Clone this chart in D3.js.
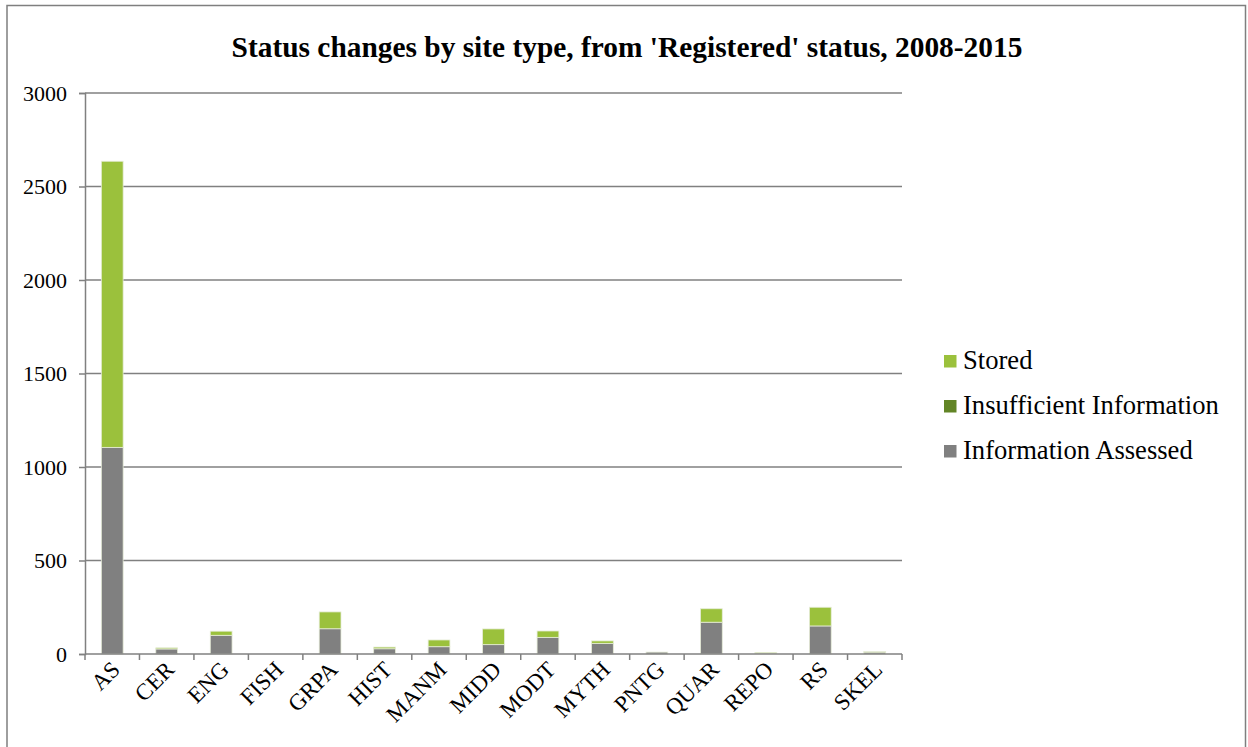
<!DOCTYPE html>
<html>
<head>
<meta charset="utf-8">
<script src="https://cdn.jsdelivr.net/npm/d3@7"></script>
<style>
  html, body { margin: 0; padding: 0; background: #fff; }
  svg { display: block; font-family: "Liberation Serif", "Times New Roman", serif; }
</style>
</head>
<body>
<svg id="chart" width="1248" height="747"></svg>
<script>
// Site type codes along the x axis
const categories = ["AS", "CER", "ENG", "FISH", "GRPA", "HIST", "MANM", "MIDD", "MODT", "MYTH", "PNTG", "QUAR", "REPO", "RS", "SKEL"];

// Number of status changes per site type, by new status
const informationAssessed = [1105, 27, 100, 0, 135, 28, 39, 50, 89, 57, 10, 170, 2, 150, 10];
const insufficientInformation = [0, 0, 0, 0, 0, 0, 0, 0, 0, 0, 0, 0, 0, 0, 0];
const stored = [1530, 6, 22, 0, 90, 9, 36, 84, 34, 13, 0, 72, 6, 100, 3];

const seriesNames = ["Information Assessed", "Insufficient Information", "Stored"];
const seriesColors = ["#808080", "#628526", "#9bc13c"];
const yTicks = [0, 500, 1000, 1500, 2000, 2500, 3000];

const rows = categories.map((c, i) => ({
  cat: c,
  "Information Assessed": informationAssessed[i],
  "Insufficient Information": insufficientInformation[i],
  "Stored": stored[i]
}));

const svg = d3.select("#chart");

// Outer chart frame
svg.append("rect")
  .attr("x", 7).attr("y", 5.5)
  .attr("width", 1238.5).attr("height", 760)
  .attr("fill", "none").attr("stroke", "#7f7f7f").attr("stroke-width", 1.5);

// Title
svg.append("text")
  .attr("x", 627).attr("y", 57)
  .attr("text-anchor", "middle")
  .attr("font-weight", "bold")
  .attr("font-size", 29.4)
  .attr("fill", "#000")
  .text("Status changes by site type, from 'Registered' status, 2008-2015");

const plot = { left: 85, right: 902, top: 93, bottom: 654 };

const x = d3.scaleBand().domain(categories).range([plot.left, plot.right]).paddingInner(0.6).paddingOuter(0.3);
const xBand = d3.scaleBand().domain(categories).range([plot.left, plot.right]);
const y = d3.scaleLinear().domain([0, 3000]).range([plot.bottom, plot.top]);

// Horizontal gridlines
svg.append("g").selectAll("line")
  .data(yTicks.filter(t => t > 0))
  .join("line")
  .attr("x1", plot.left).attr("x2", plot.right)
  .attr("y1", d => y(d)).attr("y2", d => y(d))
  .attr("stroke", "#808080").attr("stroke-width", 1.5);

// Stacked bars
const stack = d3.stack().keys(seriesNames);
const layers = stack(rows);
svg.append("g").selectAll("g")
  .data(layers)
  .join("g")
  .attr("fill", (d, i) => seriesColors[i])
  .selectAll("rect")
  .data(d => d)
  .join("rect")
  .attr("x", d => x(d.data.cat))
  .attr("width", x.bandwidth())
  .attr("y", d => y(d[1]))
  .attr("height", d => y(d[0]) - y(d[1]))
  .attr("stroke", "#e6ecd8")
  .attr("stroke-width", d => (y(d[0]) - y(d[1])) > 0.5 ? 0.8 : 0);

// Y axis
const yAxis = d3.axisLeft(y).tickValues(yTicks).tickSize(6).tickPadding(12).tickFormat(d3.format("d"));
const gy = svg.append("g").attr("transform", `translate(${plot.left},0)`).call(yAxis);
gy.select(".domain").attr("stroke", "#808080").attr("stroke-width", 1.5);
gy.selectAll(".tick line").attr("stroke", "#808080").attr("stroke-width", 1.5);
gy.selectAll(".tick text")
  .attr("font-family", "Liberation Serif, Times New Roman, serif")
  .attr("font-size", 22).attr("fill", "#000");

// X axis: line and boundary ticks
const gx = svg.append("g");
gx.append("line")
  .attr("x1", plot.left).attr("x2", plot.right)
  .attr("y1", plot.bottom).attr("y2", plot.bottom)
  .attr("stroke", "#808080").attr("stroke-width", 1.5);
const bounds = categories.map(c => xBand(c)).concat([plot.right]);
gx.selectAll("line.tk")
  .data(bounds)
  .join("line")
  .attr("class", "tk")
  .attr("x1", d => d).attr("x2", d => d)
  .attr("y1", plot.bottom).attr("y2", plot.bottom + 6)
  .attr("stroke", "#808080").attr("stroke-width", 1.5);
gx.selectAll("text")
  .data(categories)
  .join("text")
  .attr("text-anchor", "end")
  .attr("font-size", 23)
  .attr("fill", "#000")
  .attr("transform", d => `translate(${xBand(d) + xBand.bandwidth() / 2 + 9},${plot.bottom + 17}) rotate(-45)`)
  .text(d => d);

// Legend (top entry is the top of the stack)
const legendOrder = ["Stored", "Insufficient Information", "Information Assessed"];
const lg = svg.append("g");
legendOrder.forEach((name, i) => {
  const cy = 361 + i * 45;
  lg.append("rect")
    .attr("x", 944).attr("y", cy - 6)
    .attr("width", 12.5).attr("height", 12.5)
    .attr("fill", seriesColors[seriesNames.indexOf(name)]);
  lg.append("text")
    .attr("x", 963).attr("y", cy + 8)
    .attr("font-size", 26.6).attr("fill", "#000")
    .text(name);
});
</script>
</body>
</html>
